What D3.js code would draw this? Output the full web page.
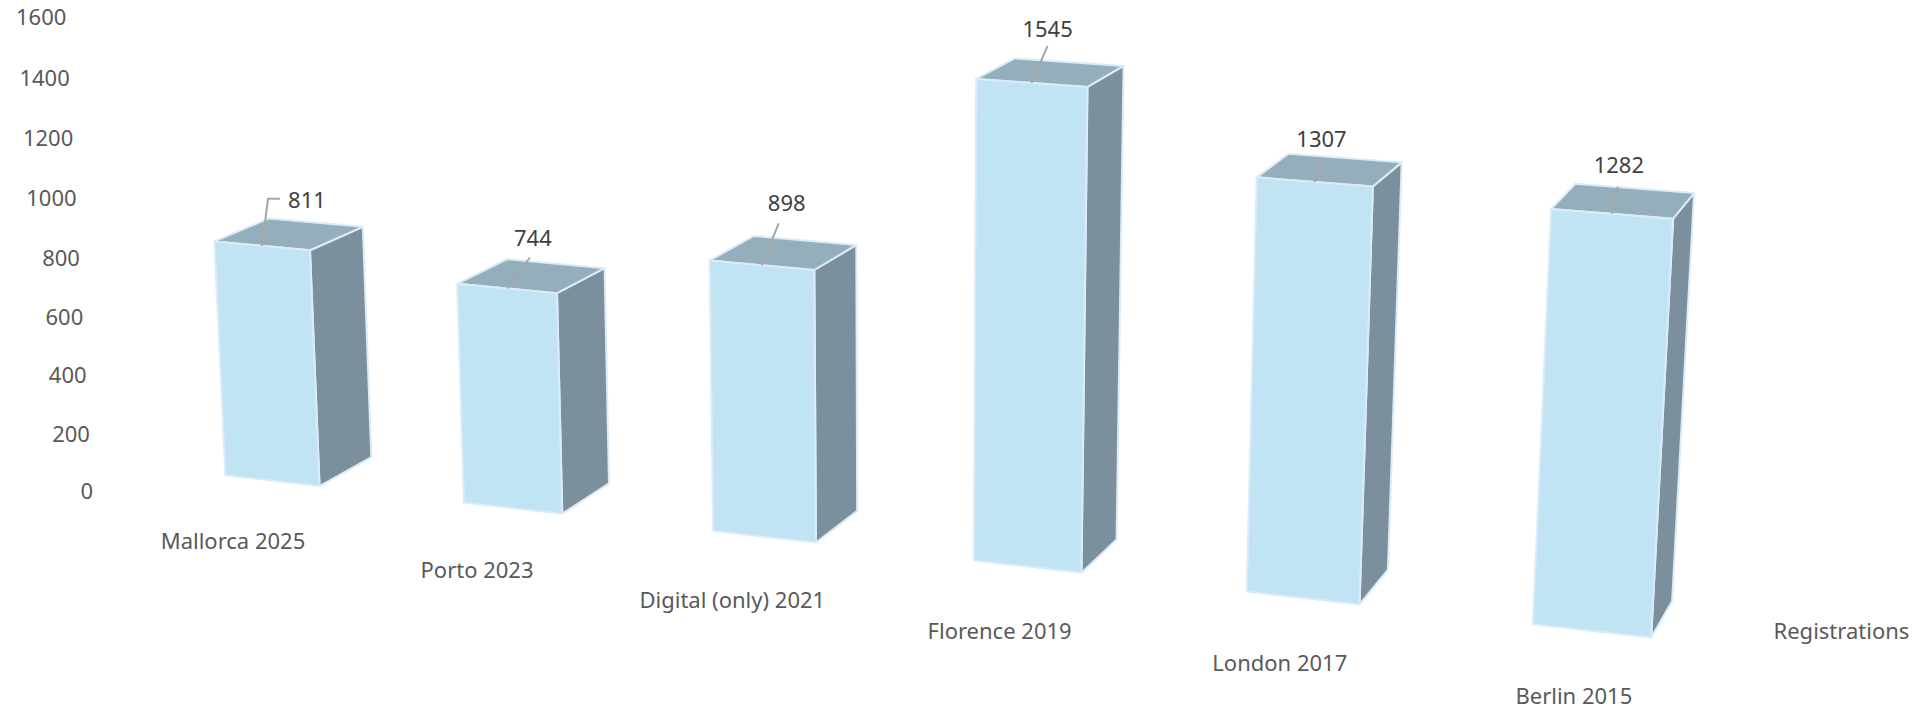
<!DOCTYPE html>
<html>
<head>
  <meta charset="UTF-8">
  <title>Registrations</title>
  <script src="https://cdn.jsdelivr.net/npm/d3@7"></script>
  <style>
    body { margin: 0; background: #fff; font-family: "Noto Sans", sans-serif; }
    svg { display: block; }
    .tick-label { fill: #595959; font-size: 22px; }
    .value-label { fill: #404040; font-size: 22px; }
  </style>
</head>
<body>
  <div id="chart"></div>
  <script>
    var categories = ["Mallorca 2025", "Porto 2023", "Digital (only) 2021", "Florence 2019", "London 2017", "Berlin 2015"];
    var registrations = [811, 744, 898, 1545, 1307, 1282];
    var yTicks = [0, 200, 400, 600, 800, 1000, 1200, 1400, 1600];
    var seriesName = "Registrations";

    // label nudges and leader lengths, px from where the leader starts on the bar
    var labelNudge = [[45, -47], [26, -52], [25, -63], [16, -55], [7, -44], [7, -50]];
    var leaderEnd = [[6, -47], [23, -31], [17, -42], [16, -37], [7, -24], [6, -27]];
    // category labels drift less than the camera says towards the right
    var categoryNudge = [2, 3, 3, 4, 6, 8];

    var width = 1921, height = 710;
    var svg = d3.select('#chart').append('svg').attr('width', width).attr('height', height);

    // one band per category, along the chart's x direction
    var x = d3.scaleBand().domain(categories).range([0, 5.4]).paddingInner(0.6);
    var y = d3.scaleLinear().domain([0, 1600]).range([0, 1600]);

    function project(wx, wy, wz) {
      var d = 1 - 0.0215 * wx - 0.0000197 * wy + 0.0252 * wz;
      return [
        (184 + 186.54 * wx - 0.01454 * wy + 49.5 * wz) / d * 1.2251,
        (388 + 13.34 * wx - 0.2393 * wy - 14 * wz) / d * 1.2251
      ];
    }

    var poly = d3.line().curve(d3.curveLinearClosed);

    function face(g, points, fill) {
      g.append('path')
        .attr('d', poly(points))
        .attr('fill', fill)
        .attr('stroke', '#dcebf8')
        .attr('stroke-width', 2)
        .attr('stroke-linejoin', 'round');
    }

    var bars = svg.selectAll('.bar')
      .data(categories)
      .enter()
      .append('g')
      .attr('class', 'bar')
      .each(function (d, i) {
        var g = d3.select(this);
        var x0 = x(d), x1 = x0 + x.bandwidth(), v = y(registrations[i]);
        face(g, [project(x1, 0, 0), project(x1, 0, 1), project(x1, v, 1), project(x1, v, 0)], '#7c8f9c');
        face(g, [project(x0, v, 0), project(x1, v, 0), project(x1, v, 1), project(x0, v, 1)], '#94aebb');
        face(g, [project(x0, 0, 0), project(x1, 0, 0), project(x1, v, 0), project(x0, v, 0)], '#c1e4f5');
      });

    // leader lines + value labels
    categories.forEach(function (d, i) {
      var start = project(x(d) + x.bandwidth() / 2, y(registrations[i]), 0);
      var end = leaderEnd[i];
      var pts = [start, [start[0] + end[0], start[1] + end[1]]];
      if (i == 0) pts.push([start[0] + 18, start[1] + end[1]]);
      svg.append('path')
        .attr('d', d3.line()(pts))
        .attr('fill', 'none')
        .attr('stroke', '#a6a6a6')
        .attr('stroke-width', 2);
      svg.append('text')
        .attr('class', 'value-label')
        .attr('x', start[0] + labelNudge[i][0])
        .attr('y', start[1] + labelNudge[i][1])
        .attr('text-anchor', 'middle')
        .attr('dominant-baseline', 'central')
        .text(registrations[i]);
    });

    // value axis, sits in front of the first bar
    svg.selectAll('.y-label')
      .data(yTicks)
      .enter()
      .append('text')
      .attr('class', 'tick-label y-label')
      .attr('x', d => project(-0.38, y(d), -0.8)[0] + 2)
      .attr('y', d => project(-0.38, y(d), -0.8)[1] + 1.5)
      .attr('text-anchor', 'end')
      .attr('dominant-baseline', 'central')
      .text(d => d);

    // category axis
    svg.selectAll('.x-label')
      .data(categories)
      .enter()
      .append('text')
      .attr('class', 'tick-label x-label')
      .attr('x', d => project(x(d) + x.bandwidth() / 2, -130, -0.8)[0] + 3)
      .attr('y', (d, i) => project(x(d) + x.bandwidth() / 2, -130, -0.8)[1] - categoryNudge[i])
      .attr('text-anchor', 'middle')
      .attr('dominant-baseline', 'central')
      .text(d => d);

    // depth axis
    var seriesPos = project(6, 0, 0.7);
    svg.append('text')
      .attr('class', 'tick-label')
      .attr('x', seriesPos[0] - 3)
      .attr('y', seriesPos[1] - 2)
      .attr('text-anchor', 'middle')
      .attr('dominant-baseline', 'central')
      .text(seriesName);
  </script>
</body>
</html>
